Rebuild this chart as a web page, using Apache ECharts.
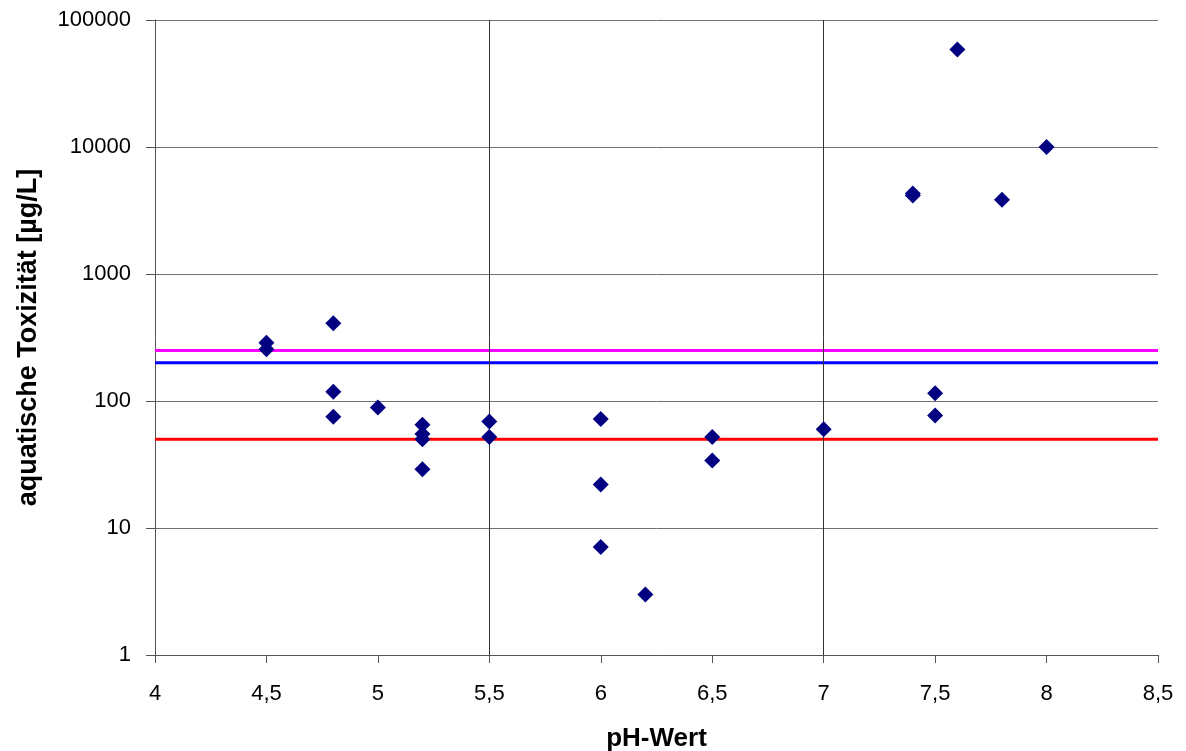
<!DOCTYPE html>
<html>
<head>
<meta charset="utf-8">
<script src="https://cdn.jsdelivr.net/npm/echarts@6/dist/echarts.min.js"></script>
<style>
html,body{margin:0;padding:0;background:#fff;}
#c{width:1186px;height:751px;}
</style>
</head>
<body>
<div id="c"></div>
<script>
// pH values and aquatic toxicity [µg/L]
var phValues = [4.5, 4.5, 4.8, 4.8, 4.8, 5.0, 5.2, 5.2, 5.2, 5.2, 5.5, 5.5, 6.0, 6.0, 6.0, 6.2, 6.5, 6.5, 7.0, 7.4, 7.4, 7.5, 7.5, 7.6, 7.8, 8.0];
var toxicity = [287, 255, 410, 118, 75, 89, 65, 55, 50, 29, 69, 52, 72, 22, 7.1, 3.0, 52, 34, 60, 4300, 4150, 115, 77, 58500, 3850, 10000];
// threshold lines
var thresholdNames = ['Magenta', 'Blau', 'Rot'];
var thresholdValues = [250, 200, 50];
var thresholdColors = ['#FF00FF', '#0000FF', '#FF0000'];
var xRange = [4, 8.5];
var verticalGrid = [5.5, 7];
var yTicks = [1, 10, 100, 1000, 10000, 100000];

var points = phValues.map(function (x, i) { return [x, toxicity[i]]; });

var series = [];
thresholdValues.forEach(function (v, i) {
  series.push({
    name: thresholdNames[i],
    type: 'line',
    data: [[xRange[0], v], [xRange[1], v]],
    symbol: 'none',
    lineStyle: { color: thresholdColors[i], width: 3 },
    silent: true,
    z: 3
  });
});
series.push({
  name: 'Daten',
  type: 'scatter',
  data: points,
  symbol: 'diamond',
  symbolSize: 16,
  itemStyle: { color: '#000080', opacity: 1 },
  z: 5,
  markLine: {
    silent: true,
    symbol: 'none',
    label: { show: false },
    lineStyle: { color: '#333333', width: 1, type: 'solid' },
    data: verticalGrid.map(function (x) { return { xAxis: x }; })
  }
});

var font = 'Liberation Sans, Arial, sans-serif';
var chart = echarts.init(document.getElementById('c'));
chart.setOption({
  animation: false,
  backgroundColor: '#ffffff',
  grid: { left: 155, right: 28, top: 20, bottom: 96, containLabel: false, outerBoundsMode: 'none' },
  xAxis: {
    type: 'value',
    min: xRange[0],
    max: xRange[1],
    interval: 0.5,
    name: 'pH-Wert',
    nameLocation: 'middle',
    nameGap: 71,
    nameTextStyle: { fontFamily: font, fontSize: 26, fontWeight: 'bold', color: '#000' },
    axisLine: { show: true, lineStyle: { color: '#555', width: 1 } },
    axisTick: { show: true, inside: false, length: 8, lineStyle: { color: '#555' } },
    axisLabel: {
      fontFamily: font, fontSize: 22, color: '#000', margin: 28,
      formatter: function (v) { return String(v).replace('.', ','); }
    },
    splitLine: { show: false }
  },
  yAxis: {
    type: 'log',
    logBase: 10,
    min: yTicks[0],
    max: yTicks[yTicks.length - 1],
    name: 'aquatische Toxizität [µg/L]',
    nameLocation: 'middle',
    nameGap: 113,
    nameTextStyle: { fontFamily: font, fontSize: 27, fontWeight: 'bold', color: '#000' },
    axisLine: { show: true, lineStyle: { color: '#555', width: 1 } },
    axisTick: { show: true, length: 9, lineStyle: { color: '#555' } },
    axisLabel: {
      fontFamily: font, fontSize: 22, color: '#000', margin: 24,
      formatter: function (v) { return String(Math.round(v)); }
    },
    splitLine: { show: true, lineStyle: { color: '#707070', width: 1 } }
  },
  series: series
});
</script>
</body>
</html>
